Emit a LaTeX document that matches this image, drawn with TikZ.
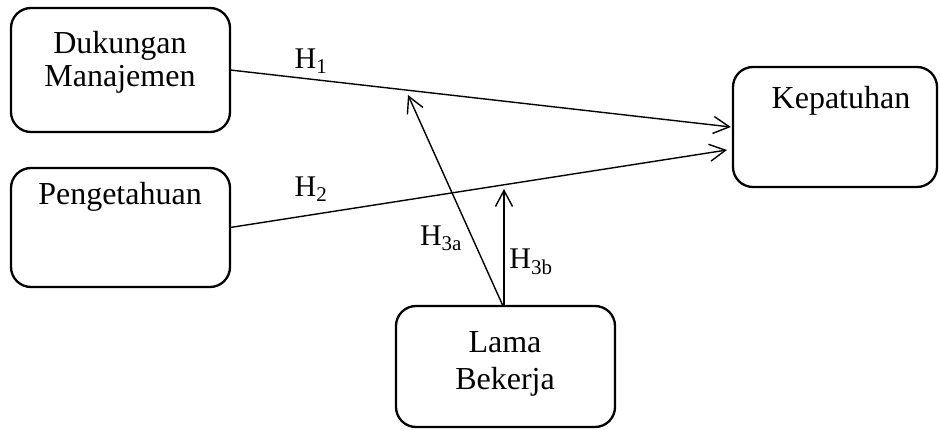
\documentclass[tikz,border=0pt]{standalone}
\usepackage{fontspec}
\setmainfont{Liberation Serif}
\usetikzlibrary{arrows.meta,calc}
\begin{document}
\begin{tikzpicture}[x=1pt,y=-1pt,
  box/.style={draw,line width=2.3pt,rounded corners=20pt},
  txt/.style={font=\fontsize{32}{33}\selectfont,align=center,inner sep=0pt},
  lbl/.style={font=\fontsize{30}{31}\selectfont,inner sep=0pt},
  arr/.style={line width=1.4pt,-{Straight Barb[length=16pt,width=17pt,line width=1.4pt]}}]
\useasboundingbox (0,0) rectangle (940,430);
\path[box] (11,8) rectangle (230,132);
\node[minimum width=219pt,minimum height=124pt,inner sep=0pt] (dm) at (120.5,70) {};
\path[box] (11,168) rectangle (230,287);
\node[minimum width=219pt,minimum height=119pt,inner sep=0pt] (pg) at (120.5,227.5) {};
\path[box] (733,67) rectangle (937,187);
\node[minimum width=204pt,minimum height=120pt,inner sep=0pt] (kp) at (835,127) {};
\path[box] (396,306) rectangle (615,427);
\node[minimum width=219pt,minimum height=121pt,inner sep=0pt] (lb) at (505.5,366.5) {};
\node[txt] (t1) at (120,62) {Dukungan\\Manajemen};
\node[txt] (t2) at (120,197) {Pengetahuan};
\node[txt,font=\fontsize{32}{37}\selectfont] (t4) at (505,364) {Lama\\Bekerja};
\node[txt] (t3) at (841,101) {Kepatuhan};
\coordinate (e2) at (727,150);
\coordinate (s3a) at (503,306);
\coordinate (e3a) at (408,95);
\coordinate (s3b) at (504,306);
\coordinate (e3b) at (504,189);
\draw[arr] (dm.east) -- ($(kp.west)+(-2,0)$);
\draw[arr] (pg.east) -- (e2);
\draw[arr] (s3a) -- (e3a);
\draw[arr] (s3b) -- (e3b);
\node[lbl] (h1) at (311,61) {H\textsubscript{1}};
\node[lbl] (h2) at (311,189) {H\textsubscript{2}};
\node[lbl] (h3a) at (441,238) {H\textsubscript{3a}};
\node[lbl] (h3b) at (531,262) {H\textsubscript{3b}};
\end{tikzpicture}
\end{document}
